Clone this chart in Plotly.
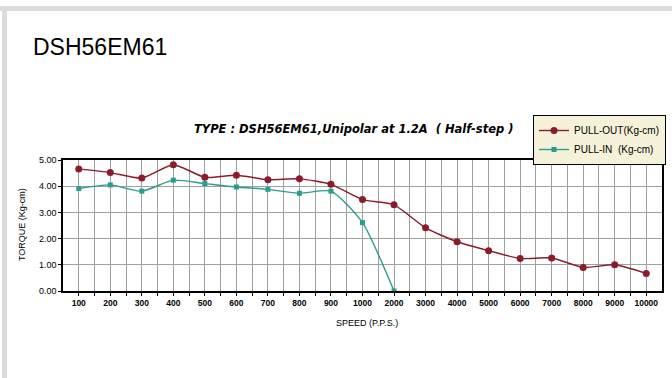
import plotly.graph_objects as go

speeds = ["100", "200", "300", "400", "500", "600", "700", "800", "900", "1000",
          "2000", "3000", "4000", "5000", "6000", "7000", "8000", "9000", "10000"]
pull_out = [4.66, 4.52, 4.31, 4.82, 4.34, 4.42, 4.25, 4.28, 4.07, 3.49,
            3.29, 2.41, 1.88, 1.54, 1.24, 1.26, 0.90, 1.00, 0.67]
pull_in_speeds = ["100", "200", "300", "400", "500", "600", "700", "800", "900", "1000", "2000"]
pull_in = [3.91, 4.05, 3.81, 4.23, 4.10, 3.97, 3.88, 3.73, 3.81, 2.61, 0.00]
y_ticks = [0, 1, 2, 3, 4, 5]
y_labels = ["0.00", "1.00", "2.00", "3.00", "4.00", "5.00"]

idx = {s: i for i, s in enumerate(speeds)}
W, H = 672, 378
L, R, T, B = 63, 662, 160, 291

def px(x):
    return (x - L) / (R - L)

def py(y):
    return (B - y) / (B - T)

# category centres carry labels; half positions carry extra gridlines
x_tickvals, x_ticktext = [], []
for i, s in enumerate(speeds):
    x_tickvals.append(i)
    x_ticktext.append(s)
    if i < len(speeds) - 1:
        x_tickvals.append(i + 0.5)
        x_ticktext.append("")

fig = go.Figure()
fig.add_trace(go.Scatter(
    x=[idx[s] for s in speeds], y=pull_out, name="PULL-OUT(Kg-cm)",
    mode="lines+markers", line=dict(color="#8c1c2c", width=1.4, shape="spline", smoothing=0.6),
    marker=dict(symbol="circle", size=7, color="#8c1c2c")))
fig.add_trace(go.Scatter(
    x=[idx[s] for s in pull_in_speeds], y=pull_in, name="PULL-IN  (Kg-cm)",
    mode="lines+markers", line=dict(color="#2a9c90", width=1.4, shape="spline", smoothing=0.6),
    marker=dict(symbol="square", size=5, color="#2a9c90")))

fig.update_layout(
    width=W, height=H,
    margin=dict(l=L, r=W - R, t=T, b=H - B, pad=0, autoexpand=False),
    paper_bgcolor="white", plot_bgcolor="white",
    font=dict(family="Liberation Sans, Arial, sans-serif", color="black"),
    showlegend=True,
    legend=dict(x=px(533), y=py(115), xanchor="left", yanchor="top",
                bgcolor="#f6f2da", bordercolor="black", borderwidth=1,
                font=dict(size=10), itemwidth=30, tracegroupgap=0,
                traceorder="normal"),
    xaxis=dict(range=[-0.5, len(speeds) - 0.5], tickmode="array",
               tickvals=x_tickvals, ticktext=x_ticktext,
               tickfont=dict(size=8.5, family="Liberation Sans, Arial", weight="bold"),
               showgrid=True, gridcolor="#a0a0a0", gridwidth=1,
               ticks="outside", ticklen=3, tickcolor="black",
               showline=True, linecolor="black", linewidth=1.5, mirror=True,
               zeroline=False, fixedrange=True),
    yaxis=dict(range=[0, 5], tickmode="array", tickvals=y_ticks, ticktext=y_labels,
               tickfont=dict(size=9), showgrid=True, gridcolor="#a0a0a0",
               ticks="outside", ticklen=3, tickcolor="black",
               showline=True, linecolor="black", linewidth=1.5, mirror=True,
               zeroline=False, fixedrange=True),
)

fig.add_annotation(text="DSH56EM61", x=px(31), y=py(47), xref="paper", yref="paper",
                   showarrow=False, font=dict(size=23), xanchor="left", yanchor="middle")
fig.add_annotation(text="<b><i>TYPE : DSH56EM61,Unipolar at 1.2A  ( Half-step )</i></b>",
                   x=px(354), y=py(129), xref="paper", yref="paper",
                   showarrow=False, font=dict(size=11.5, family="DejaVu Sans"),
                   xanchor="center", yanchor="middle")
fig.add_annotation(text="TORQUE (Kg-cm)", textangle=-90,
                   x=px(22), y=py(225), xref="paper", yref="paper",
                   showarrow=False, font=dict(size=9), xanchor="center", yanchor="middle")
fig.add_annotation(text="SPEED (P.P.S.)",
                   x=px(367), y=py(323), xref="paper", yref="paper",
                   showarrow=False, font=dict(size=9), xanchor="center", yanchor="middle")

# light grey page frame (top and left)
fig.add_shape(type="rect", xref="paper", yref="paper",
              x0=px(0), x1=px(W), y0=py(6), y1=py(11), fillcolor="#dcdcdc", line_width=0, layer="below")
fig.add_shape(type="rect", xref="paper", yref="paper",
              x0=px(2), x1=px(7), y0=py(H), y1=py(6), fillcolor="#dcdcdc", line_width=0, layer="below")

fig.write_html("out.html", config={"displayModeBar": False},
               post_script="document.body.style.margin='0';")
